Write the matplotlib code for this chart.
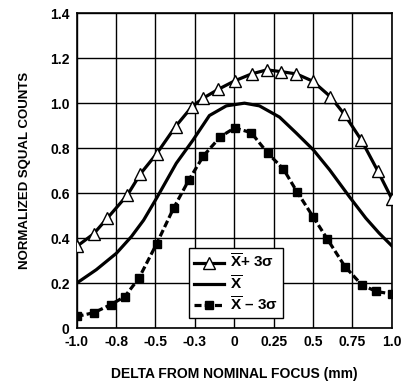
import numpy as np
import matplotlib
matplotlib.use('Agg')
import matplotlib.pyplot as plt

plt.rcParams['font.family'] = ['Liberation Sans', 'DejaVu Sans']
plt.rcParams['font.weight'] = 'bold'
plt.rcParams['mathtext.fontset'] = 'custom'
plt.rcParams['mathtext.rm'] = 'Liberation Sans:bold'
plt.rcParams['mathtext.bf'] = 'Liberation Sans:bold'

# x positions are tick-index units (ticks are evenly spaced, labels are not)
tick_labels = ['-1.0', '-0.8', '-0.5', '-0.3', '0', '0.25', '0.5', '0.75', '1.0']

x_plus = [0.0, 0.43, 0.78, 1.29, 1.62, 2.03, 2.51, 2.93, 3.21, 3.60, 4.01,
          4.44, 4.83, 5.19, 5.58, 5.99, 6.44, 6.79, 7.23, 7.64, 8.0]
y_plus = [0.363, 0.419, 0.489, 0.592, 0.686, 0.775, 0.896, 0.985, 1.022, 1.062, 1.099,
          1.130, 1.148, 1.140, 1.130, 1.098, 1.029, 0.952, 0.835, 0.70, 0.575]

x_mean = [0.0, 0.5, 1.01, 1.39, 1.7, 2.03, 2.53, 2.95, 3.37, 3.80, 4.26,
          4.64, 5.15, 5.57, 6.01, 6.42, 6.92, 7.34, 7.68, 8.0]
y_mean = [0.2, 0.26, 0.333, 0.407, 0.48, 0.578, 0.733, 0.835, 0.945, 0.988, 1.0,
          0.988, 0.938, 0.868, 0.792, 0.704, 0.585, 0.489, 0.422, 0.366]

x_minus = [0.0, 0.44, 0.86, 1.22, 1.58, 2.03, 2.46, 2.85, 3.22, 3.65, 4.01,
           4.43, 4.85, 5.25, 5.59, 6.01, 6.36, 6.81, 7.24, 7.61, 8.0]
y_minus = [0.052, 0.069, 0.104, 0.140, 0.222, 0.375, 0.533, 0.659, 0.766, 0.851, 0.89,
           0.869, 0.778, 0.707, 0.607, 0.493, 0.397, 0.274, 0.192, 0.163, 0.152]

fig = plt.figure(figsize=(4.12, 3.87), dpi=100)
ax = fig.add_axes([0.186, 0.152, 0.765, 0.814])

ax.plot(x_plus, y_plus, color='black', lw=2.3, marker='^', ms=8,
        mfc='white', mec='black', mew=1.0, label=r'$\overline{\mathrm{X}}$+ 3σ', zorder=3)
ax.plot(x_mean, y_mean, color='black', lw=2.3, label=r'$\overline{\mathrm{X}}$', zorder=3)
ax.plot(x_minus, y_minus, color='black', lw=2.3, ls=(0, (2.2, 1.0)), marker='s', ms=6,
        mfc='black', mec='black', label=r'$\overline{\mathrm{X}}$ – 3σ', zorder=3)

ax.set_xlim(0, 8)
ax.set_ylim(0, 1.4)
ax.set_xticks(range(9))
ax.set_xticklabels(tick_labels)
ax.set_yticks(np.arange(0, 1.41, 0.2))
ax.set_yticklabels(['0', '0.2', '0.4', '0.6', '0.8', '1.0', '1.2', '1.4'])
ax.tick_params(length=0, labelsize=10, pad=5)
ax.grid(True, color='black', lw=1.0)
for s in ax.spines.values():
    s.set_linewidth(1.2)

ax.set_xlabel('DELTA FROM NOMINAL FOCUS (mm)', fontsize=10, fontweight='bold', labelpad=13)
ax.set_ylabel('NORMALIZED SQUAL COUNTS', fontsize=9.5, fontweight='bold', labelpad=14)

leg = ax.legend(loc='lower left', bbox_to_anchor=(0.357, 0.032), fontsize=11,
                frameon=True, fancybox=False, edgecolor='black', framealpha=1,
                handlelength=2.0, handletextpad=0.4, borderpad=0.3, labelspacing=0.2,
                borderaxespad=0)
leg.get_frame().set_linewidth(1.0)

fig.savefig('out.png', dpi=100)
